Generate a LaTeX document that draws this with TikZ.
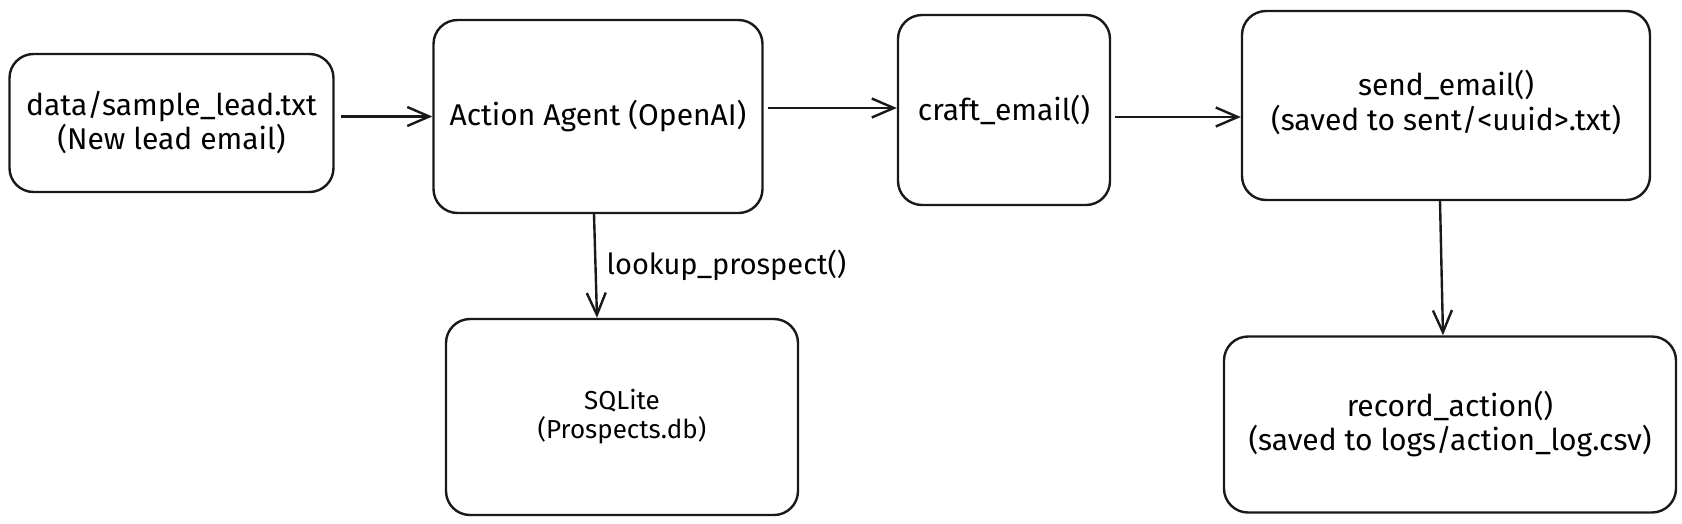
\documentclass[tikz,border=0pt]{standalone}
\usepackage{fontspec}
\setmainfont{Fira Sans}
\usetikzlibrary{arrows.meta}
\begin{document}
\begin{tikzpicture}[x=1pt,y=-1pt,
  box/.style={draw=black!90, line width=2.4pt, rounded corners=24pt, align=center,
    font=\fontsize{30}{34}\selectfont, inner sep=0pt},
  smallbox/.style={box, font=\fontsize{26}{29}\selectfont},
  flow/.style={draw=black!90, line width=2.4pt, -{Straight Barb[length=22pt,width=19pt,line width=2.4pt]}},
  lbl/.style={font=\fontsize{29}{34}\selectfont, inner sep=0pt}]
\useasboundingbox (0,0) rectangle (1682,523);
\node[box, minimum width=324pt, minimum height=138pt] (b1) at (171.5,123) {data/sample\_lead.txt\\(New lead email)};
\node[box, minimum width=329pt, minimum height=193pt] (b2) at (598,116.5) {Action Agent (OpenAI)};
\node[box, minimum width=212pt, minimum height=190pt] (b3) at (1004,110) {craft\_email()};
\node[box, minimum width=408pt, minimum height=189pt] (b4) at (1446,105.5) {\raisebox{-4pt}{\begin{tabular}{@{}c@{}}send\_email()\\(saved to sent/<uuid>.txt)\end{tabular}}};
\node[smallbox, minimum width=352pt, minimum height=196pt] (b5) at (622,417) {SQLite\\(Prospects.db)};
\node[box, minimum width=452pt, minimum height=176pt] (b6) at (1450,424.5) {record\_action()\\(saved to logs/action\_log.csv)};
\draw[flow, shorten <=6pt] (b1.east |- b2.west) -- (b2.west);
\draw[flow, shorten <=4pt] ([yshift=8.5pt]b2.east) -- ([yshift=2pt]b3.west);
\draw[flow, shorten <=4pt] ([yshift=-7pt]b3.east) -- ([yshift=-11.5pt]b4.west);
\draw[flow] ([xshift=-4pt]b2.south) -- node[lbl, right, xshift=10pt, yshift=1pt] (l1) {lookup\_prospect()} ([xshift=-25pt]b5.north);
\draw[flow] ([xshift=-6pt]b4.south) -- ([xshift=-7pt]b6.north);
\end{tikzpicture}
\end{document}
